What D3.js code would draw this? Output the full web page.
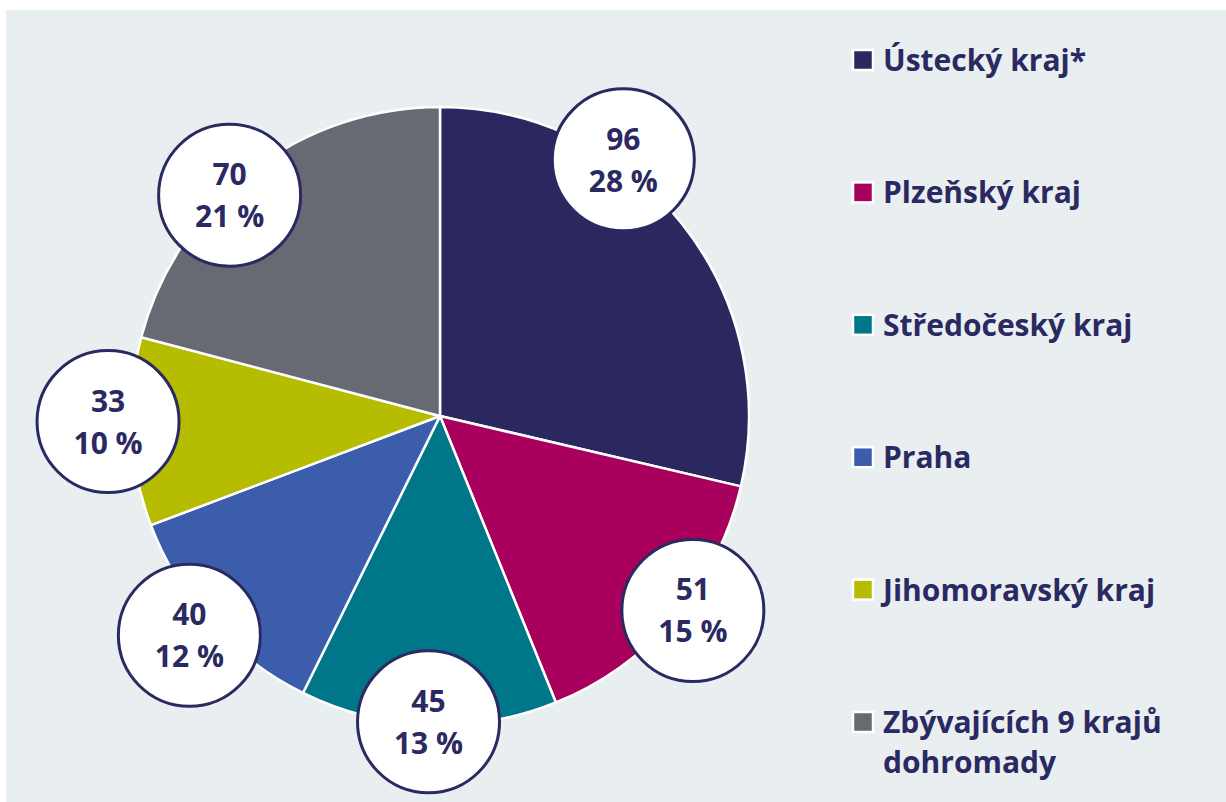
<!DOCTYPE html>
<html>
<head>
<meta charset="utf-8">
<script src="https://cdn.jsdelivr.net/npm/d3@7"></script>
<style>
  body { margin: 0; background: #fff; }
  #chart text { font-family: "Open Sans", sans-serif; font-weight: 700; fill: #2b2961; }
</style>
</head>
<body>
<div id="chart"></div>
<script>
// data
const regions = ["Ústecký kraj*", "Plzeňský kraj", "Středočeský kraj", "Praha", "Jihomoravský kraj", "Zbývajících 9 krajů dohromady"];
const counts = [96, 51, 45, 40, 33, 70];
const shares = ["28 %", "15 %", "13 %", "12 %", "10 %", "21 %"];
const colors = ["#2b2860", "#a8005c", "#007789", "#3b5dab", "#b6bd00", "#676a72"];

// label bubble placement (nudge off the mid-angle, in degrees, and distance from centre)
const labelNudge = [-16, -3, 0, 1, 2, -6];
const labelDist = [315, 319, 306, 333, 332, 305];

const width = 1226;
const height = 802;
const cx = 440, cy = 416, radius = 309;

const svg = d3.select("#chart")
    .append("svg")
    .attr("width", width)
    .attr("height", height);

// background panel
svg.append("rect")
    .attr("x", 6)
    .attr("y", 10)
    .attr("width", width - 6)
    .attr("height", height - 10)
    .attr("fill", "#e9eff0");

const color = d3.scaleOrdinal().domain(regions).range(colors);

const pie = d3.pie().value(d => d.count).sort(null);
const arc = d3.arc().innerRadius(0).outerRadius(radius);

const rows = regions.map((r, i) => ({ region: r, count: counts[i], share: shares[i], i }));
const arcs = pie(rows);

const g = svg.append("g").attr("transform", `translate(${cx}, ${cy})`);

g.selectAll("path.slice")
    .data(arcs)
    .enter()
    .append("path")
    .attr("class", "slice")
    .attr("d", arc)
    .attr("fill", d => color(d.data.region))
    .attr("stroke", "#fff")
    .attr("stroke-width", 2.5)
    .attr("stroke-linejoin", "round");

// value bubbles
const bubbles = g.selectAll("g.bubble")
    .data(arcs)
    .enter()
    .append("g")
    .attr("class", "bubble")
    .attr("transform", d => {
        const a = (d.startAngle + d.endAngle) / 2 + labelNudge[d.index] * Math.PI / 180;
        const r = labelDist[d.index];
        return `translate(${Math.sin(a) * r}, ${-Math.cos(a) * r})`;
    });

bubbles.append("circle")
    .attr("r", 71)
    .attr("fill", "#fff")
    .attr("stroke", "#2b2961")
    .attr("stroke-width", 3);

bubbles.append("text")
    .attr("text-anchor", "middle")
    .attr("y", -10)
    .style("font-size", "30px")
    .text(d => d.data.count);

bubbles.append("text")
    .attr("text-anchor", "middle")
    .attr("y", 32)
    .style("font-size", "30px")
    .text(d => d.data.share);

// legend
const legendY = d3.scalePoint().domain(regions).range([60, 722]);

const legend = svg.append("g")
    .attr("class", "legend")
    .selectAll("g")
    .data(rows)
    .enter()
    .append("g")
    .attr("transform", d => `translate(863, ${legendY(d.region)})`);

legend.append("rect")
    .attr("x", -10)
    .attr("y", -10)
    .attr("width", 20)
    .attr("height", 20)
    .attr("fill", d => color(d.region))
    .attr("stroke", "#fff")
    .attr("stroke-width", 2.5);

legend.append("text")
    .attr("x", 20)
    .attr("y", 11)
    .style("font-size", "30px")
    .each(function (d) {
        const t = d3.select(this);
        const lines = d.i === 5 ? ["Zbývajících 9 krajů", "dohromady"] : [d.region];
        lines.forEach((line, k) => {
            t.append("tspan")
                .attr("x", 20)
                .attr("dy", k === 0 ? 0 : 40)
                .text(line);
        });
    });
</script>
</body>
</html>
